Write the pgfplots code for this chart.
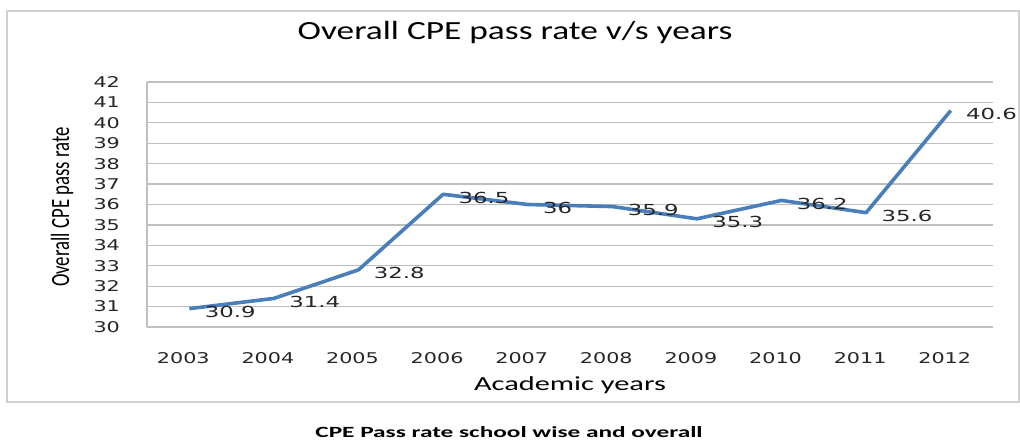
\documentclass[border=0pt]{standalone}
\usepackage{pgfplots}
\pgfplotsset{compat=1.18}
\usepackage{graphicx}
\usepackage{fontspec}
\setmainfont{Carlito}
\newfontfamily\tickfont[FakeStretch=1.4]{DejaVu Sans}
\newfontfamily\labfont[FakeStretch=1.5]{DejaVu Sans}
\newfontfamily\widecal[FakeStretch=1.35]{Carlito}
\newfontfamily\widercal[FakeStretch=1.52]{Carlito}
\newfontfamily\capfont[FakeStretch=1.62]{Carlito}
\definecolor{linecol}{HTML}{4A7EBB}
\definecolor{gridcol}{HTML}{BFBFBF}
\definecolor{boxcol}{HTML}{D0D0D0}
\begin{document}
\begin{tikzpicture}[x=1pt,y=1pt]
\useasboundingbox (0,0) rectangle (510,220.5);
\draw[boxcol, line width=0.8pt] (3.5,19.5) rectangle (509.5,215);
\begin{axis}[
  at={(73.5pt,57pt)}, anchor=south west,
  scale only axis, width=423pt, height=122.5pt,
  xmin=-0.5, xmax=9.5, ymin=30, ymax=42,
  xtick={0,...,9},
  xticklabels={2003,2004,2005,2006,2007,2008,2009,2010,2011,2012},
  ytick={30,...,42},
  ymajorgrids, grid style={gridcol, line width=0.6pt},
  axis x line=bottom, axis y line=left,
  axis line style={gridcol, line width=0.6pt, -},
  major tick length=0pt,
  /pgf/number format/assume math mode=true,
  ticklabel style={font=\tickfont\fontsize{7.4}{8}\selectfont, text=black!85},
  yticklabel style={xshift=-10pt},
  xticklabel style={yshift=-9pt, xshift=-3pt},
  clip=false,
]
\addplot[linecol, line width=1.8pt, line join=round,
  nodes near coords,
  every node near coord/.append style={anchor=west, xshift=3.5pt, yshift=-1.8pt,
     font=\labfont\fontsize{7.6}{8}\selectfont, text=black!85},
  point meta=explicit symbolic]
 table[meta=label] {
x y label
0 30.9 30.9
1 31.4 31.4
2 32.8 32.8
3 36.5 36.5
4 36.0 36
5 35.9 35.9
6 35.3 35.3
7 36.2 36.2
8 35.6 35.6
9 40.6 40.6
};
\end{axis}
\node[font=\widecal\fontsize{13.1}{15}\selectfont] at (257.5,204) {Overall CPE pass rate v/s years};
\node[rotate=90, font=\fontsize{9.4}{11}\selectfont] at (31,117) {\scalebox{1}[1.4]{Overall CPE pass rate}};
\node[font=\widercal\fontsize{10}{12}\selectfont] at (285,28) {Academic years};
\node[font=\capfont\bfseries\fontsize{7.8}{9}\selectfont] at (254.5,4.5) {CPE Pass rate school wise and overall};
\end{tikzpicture}
\end{document}
